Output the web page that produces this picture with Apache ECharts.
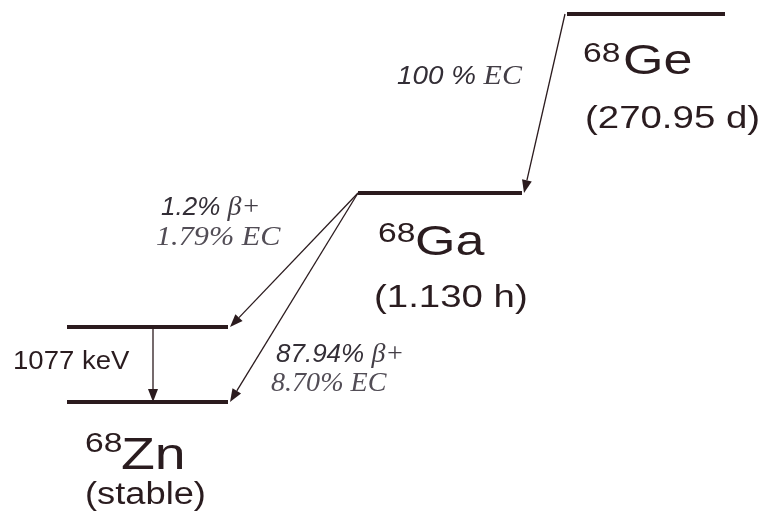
<!DOCTYPE html>
<html><head><meta charset="utf-8">
<script src="https://cdn.jsdelivr.net/npm/echarts@6/dist/echarts.min.js"></script>
<style>html,body{margin:0;padding:0;background:#fff}#c{width:765px;height:532px}</style>
</head><body><div id="c"></div>
<script>
// ---- data (diagram units, y measured downward) ----
const nuclides = ['Ge', 'Ga', 'Zn'];
const massNumbers = ['68', '68', '68'];
const halfLives = ['(270.95 d)', '(1.130 h)', '(stable)'];
const levelNames = ['68Ge', '68Ga', '68Zn 1077', '68Zn'];
const levelY = [14, 193, 327, 402];
const levelStart = [567, 358, 67, 67];
const levelEnd = [725, 522, 228, 228];
const transFrom = [0, 1, 1, 2];
const transTo = [1, 2, 3, 3];
const transStartX = [565, 358, 358, 153];
const transEndX = [524, 230, 230, 153];
const ecBranch = ['100 %', '1.79%', '8.70%'];
const betaBranch = ['', '1.2%', '87.94%'];
const gammaEnergy = ['1077 keV'];

// ---- styles / layout ----
const LINE = '#2b1b1e';
const DARK = '#2a1c1f';
const SANS = "'Liberation Sans', Arial, sans-serif";
const SERIF = "'Liberation Serif', 'Times New Roman', serif";

const labels = [
  {x: 583, y: 54, text: massNumbers[0], size: 28, sx: 1.2},
  {x: 623, y: 62, text: nuclides[0], size: 43, sx: 1.21},
  {x: 585, y: 119, text: halfLives[0], size: 32, sx: 1.2},
  {x: 378, y: 234, text: massNumbers[1], size: 28, sx: 1.2},
  {x: 415, y: 243, text: nuclides[1], size: 43, sx: 1.21},
  {x: 374, y: 298, text: halfLives[1], size: 32, sx: 1.2},
  {x: 85, y: 444, text: massNumbers[2], size: 28, sx: 1.2},
  {x: 121, y: 457, text: nuclides[2], size: 44, sx: 1.26},
  {x: 85, y: 495, text: halfLives[2], size: 31, sx: 1.17},
  {x: 13, y: 362, text: gammaEnergy[0], size: 26, sx: 1.06},
  {x: 397, y: 77, rich: [[ecBranch[0] + ' ', 's'], ['EC', 't']], sx: 1.07},
  {x: 161, y: 208, rich: [[betaBranch[1] + ' ', 's'], ['β+', 't']], sx: 1.0},
  {x: 156, y: 238, rich: [[ecBranch[1] + ' EC', 't2']], sx: 1.12},
  {x: 276, y: 355, rich: [[betaBranch[2] + ' ', 's'], ['β+', 't']], sx: 1.0},
  {x: 271, y: 384, rich: [[ecBranch[2] + ' EC', 't2']], sx: 1.04}
];

const chart = echarts.init(document.getElementById('c'), null, {renderer: 'canvas'});
chart.setOption({
  animation: false,
  backgroundColor: '#ffffff',
  grid: {left: 0, right: 0, top: 0, bottom: 0},
  xAxis: {type: 'value', min: 0, max: 765, show: false},
  yAxis: {type: 'value', min: 0, max: 532, inverse: true, show: false},
  series: [
    {
      type: 'custom', name: 'levels',
      data: levelY.map((y, i) => [levelStart[i], y, levelEnd[i]]),
      renderItem: (params, api) => {
        const a = api.coord([api.value(0), api.value(1)]);
        const b = api.coord([api.value(2), api.value(1)]);
        return {type: 'line', shape: {x1: a[0], y1: a[1], x2: b[0], y2: b[1]},
          style: {stroke: LINE, lineWidth: 4}};
      }
    },
    {
      type: 'custom', name: 'transitions',
      data: transFrom.map((f, i) => [transStartX[i], levelY[f], transEndX[i], levelY[transTo[i]]]),
      renderItem: (params, api) => {
        const p0 = api.coord([api.value(0), api.value(1)]);
        const p1 = api.coord([api.value(2), api.value(3)]);
        const dx = p1[0] - p0[0], dy = p1[1] - p0[1];
        const len = Math.sqrt(dx * dx + dy * dy);
        const ux = dx / len, uy = dy / len;
        const L = 13, W = 5;
        const bx = p1[0] - ux * L, by = p1[1] - uy * L;
        return {type: 'group', children: [
          {type: 'line', shape: {x1: p0[0], y1: p0[1], x2: bx, y2: by},
            style: {stroke: LINE, lineWidth: 1.3}},
          {type: 'polygon', shape: {points: [[p1[0], p1[1]], [bx - uy * W, by + ux * W], [bx + uy * W, by - ux * W]]},
            style: {fill: LINE}}
        ]};
      }
    },
    {
      type: 'custom', name: 'labels',
      data: labels.map(l => [l.x, l.y]),
      renderItem: (params, api) => {
        const l = labels[params.dataIndex];
        const p = api.coord([api.value(0), api.value(1)]);
        const style = {x: 0, y: 0, align: 'left', verticalAlign: 'middle'};
        if (l.rich) {
          style.text = l.rich.map(r => '{' + r[1] + '|' + r[0] + '}').join('');
          style.rich = {
            s: {font: 'italic 26px ' + SANS, fill: '#332e36'},
            t: {font: 'italic 28px ' + SERIF, fill: '#433e46'},
            t2: {font: 'italic 27px ' + SERIF, fill: '#524d56'}
          };
        } else {
          style.text = l.text;
          style.font = l.size + 'px ' + SANS;
          style.fill = DARK;
        }
        return {type: 'text', x: p[0], y: p[1], scaleX: l.sx, style: style};
      }
    }
  ]
});
</script></body></html>
